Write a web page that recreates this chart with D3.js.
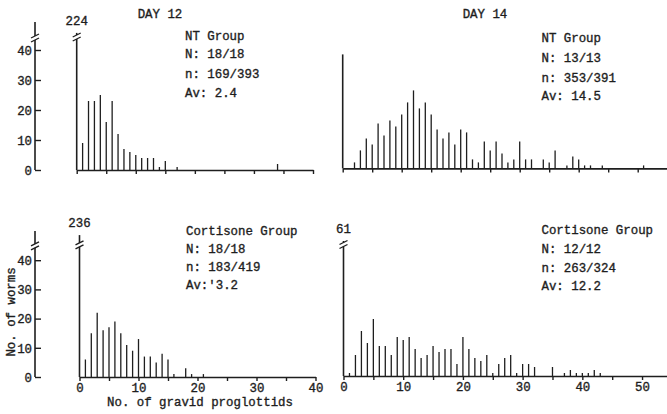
<!DOCTYPE html>
<html>
<head>
<meta charset="utf-8">
<script src="https://cdn.jsdelivr.net/npm/d3@7"></script>
<style>
body { margin: 0; background: #fff; }
text { font-family: "Liberation Mono", "DejaVu Sans Mono", monospace; font-size: 12.4px; fill: #1e1e1e; stroke: #1e1e1e; stroke-width: 0.35px; }
</style>
</head>
<body>
<div id="chart-area"></div>
<script>
/*
*    worms per number of gravid proglottids, day 12 / day 14
*/

// index = no. of gravid proglottids, value = no. of worms
var day12NT = [224, 9, 23, 23, 25, 16, 23, 12, 7, 6, 5, 4, 4, 4, 1, 3, 0, 1, 0, 0,
    0, 0, 0, 0, 0, 0, 0, 0, 0, 0, 0, 0, 0, 0, 2];
var day14NT = [38, 0, 2, 6, 10, 8, 15, 11, 16, 14, 18, 22, 26, 20, 22, 18, 13, 10, 12, 8,
    13, 12, 3, 2, 9, 6, 9, 5, 2, 3, 9, 3, 3, 0, 3, 2, 6, 0, 1, 4,
    3, 1, 1, 0, 1, 0, 0, 0, 0, 0, 0, 1];
var day12Cort = [236, 6, 15, 22, 16, 17, 19, 15, 11, 9, 13, 7, 7, 5, 8, 6, 1, 0, 3, 1, 0, 1];
var day14Cort = [61, 1, 7, 15, 11, 19, 10, 10, 7, 13, 12, 13, 9, 6, 7, 10, 8, 9, 9, 4,
    13, 9, 6, 5, 7, 1, 4, 6, 7, 1, 4, 4, 3, 0, 0, 3, 0, 1, 2, 1,
    1, 1, 2, 1];

var yTicks = [0, 10, 20, 30, 40];
var dayLabels = ["DAY 12", "DAY 14"];
var ntText12 = ["NT Group", "N: 18/18", "n: 169/393", "Av: 2.4"];
var ntText14 = ["NT Group", "N: 13/13", "n: 353/391", "Av: 14.5"];
var cortText12 = ["Cortisone Group", "N: 18/18", "n: 183/419", "Av:'3.2"];
var cortText14 = ["Cortisone Group", "N: 12/12", "n: 263/324", "Av: 12.2"];

var ink = "#1e1e1e";

var svg = d3.select("#chart-area")
    .append("svg")
    .attr("width", 667)
    .attr("height", 414);

function breakMark(g, x, y) {
    g.append("rect").attr("x", x - 3).attr("y", y - 3).attr("width", 6).attr("height", 4).attr("fill", "#fff");
    [y - 3, y + 1].forEach((yy) => {
        g.append("line")
            .attr("x1", x - 4).attr("y1", yy + 2)
            .attr("x2", x + 4).attr("y2", yy - 2)
            .attr("stroke", ink).attr("stroke-width", 1.3);
    });
}

function panel(o) {
    var g = svg.append("g");

    var x = d3.scaleLinear().domain([0, o.xMax]).range([o.x0, o.x1]);
    var y = d3.scaleLinear().domain([0, 40]).range([o.base, o.base - 40 * o.k]);

    // x axis
    var xa = g.append("g")
        .attr("transform", "translate(0," + o.base + ")")
        .call(d3.axisBottom(x)
            .tickValues(d3.range(0, o.xMax + 1, 5))
            .tickSize(4)
            .tickSizeOuter(0)
            .tickPadding(4)
            .tickFormat((d) => { return (o.xLabels && d % 10 === 0) ? d : ""; }));
    xa.select(".domain").attr("stroke", ink).attr("stroke-width", 1.6);
    xa.selectAll(".tick line").attr("stroke", ink).attr("stroke-width", 1.4);
    xa.selectAll(".tick text").attr("dy", "0.6em");

    // bars
    var data = o.values.map((v, i) => { return {n: i, v: v}; }).filter((d) => { return d.v > 0; });
    g.selectAll("line.bar").data(data).enter()
        .append("line")
            .attr("class", "bar")
            .attr("x1", (d) => { return x(d.n); })
            .attr("x2", (d) => { return x(d.n); })
            .attr("y1", y(0))
            .attr("y2", (d) => { return y(Math.min(d.v, o.cap)); })
            .attr("stroke", ink)
            .attr("stroke-width", (d) => { return d.n === 0 ? 1.6 : 1.3; });

    // broken zero bar
    if (o.values[0] > o.cap) {
        breakMark(g, x(0), y(o.brk));
        g.append("text")
            .attr("x", x(0) + o.capDx)
            .attr("y", y(o.cap) - 8)
            .attr("text-anchor", "middle")
            .text(o.values[0]);
    }

    // y axis (left panels only)
    if (o.yAxis) {
        var ya = g.append("g")
            .attr("transform", "translate(" + o.yx + ",0)")
            .call(d3.axisLeft(y).tickValues(yTicks).tickSize(-6).tickPadding(3));
        ya.select(".domain").remove();
        ya.selectAll(".tick line").attr("stroke", ink).attr("stroke-width", 1.4);
        ya.selectAll(".tick text").attr("dy", "0.35em");
        g.append("line")
            .attr("x1", o.yx).attr("x2", o.yx)
            .attr("y1", y(0)).attr("y2", o.yTop)
            .attr("stroke", ink).attr("stroke-width", 1.6);
        breakMark(g, o.yx, y(o.brk) + 1);
    }

    // group text
    g.selectAll("text.info").data(o.info).enter()
        .append("text")
            .attr("class", "info")
            .attr("x", o.tx)
            .attr("y", (d, i) => { return o.ty[i]; })
            .text((d) => { return d; });
}

panel({values: day12NT, xMax: 40, x0: 76.7, x1: 313, base: 170, k: 3, cap: 45.7, brk: 44,
    capDx: 0, xLabels: false, yAxis: true, yx: 35, yTop: 22,
    info: ntText12, tx: 185, ty: [39.5, 57.5, 78, 96.5]});
panel({values: day14NT, xMax: 55, x0: 342.7, x1: 667.2, base: 168.4, k: 3, cap: 50,
    xLabels: false, yAxis: false,
    info: ntText14, tx: 541.5, ty: [41.5, 61.5, 81.5, 100]});
panel({values: day12Cort, xMax: 40, x0: 79.5, x1: 315.5, base: 377, k: 2.92, cap: 48.6, brk: 44.9,
    capDx: 0, xLabels: true, yAxis: true, yx: 35, yTop: 231,
    info: cortText12, tx: 186, ty: [234.5, 252.5, 270.5, 289]});
panel({values: day14Cort, xMax: 55, x0: 343.5, x1: 671.9, base: 376, k: 3, cap: 45, brk: 43.5,
    capDx: 0, xLabels: true, yAxis: false,
    info: cortText14, tx: 541.5, ty: [233.5, 252.5, 272, 290]});

// titles
svg.selectAll("text.day").data(dayLabels).enter()
    .append("text")
        .attr("class", "day")
        .attr("x", (d, i) => { return [160, 485][i]; })
        .attr("y", 18)
        .attr("text-anchor", "middle")
        .text((d) => { return d; });

svg.append("text")
    .attr("x", 200)
    .attr("y", 406)
    .attr("text-anchor", "middle")
    .text("No. of gravid proglottids");

svg.append("text")
    .attr("transform", "translate(15,312) rotate(-90)")
    .attr("text-anchor", "middle")
    .text("No. of worms");
</script>
</body>
</html>
